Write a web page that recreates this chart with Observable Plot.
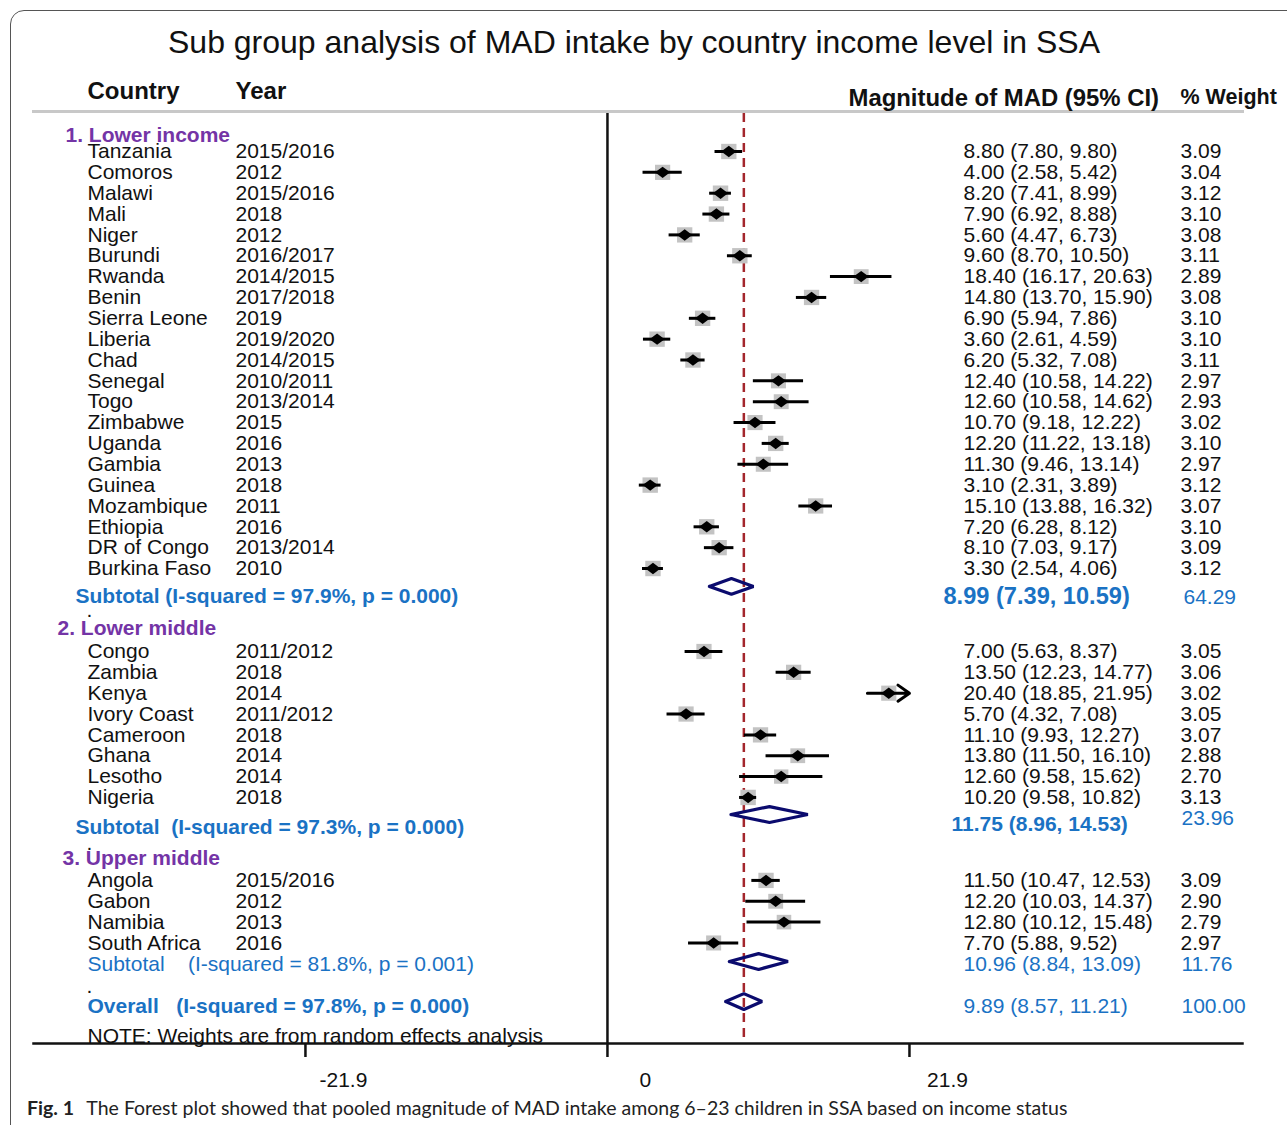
<!DOCTYPE html>
<html>
<head>
<meta charset="utf-8">
<script src="https://cdn.jsdelivr.net/npm/d3@7"></script>
<script src="https://cdn.jsdelivr.net/npm/@observablehq/plot@0.6"></script>
<style>
  body { margin: 0; background: #fff; width: 1287px; height: 1125px; overflow: hidden; position: relative; }
  #border { position: absolute; left: 10px; top: 10px; width: 1400px; height: 1300px; border: 1.5px solid #555; border-radius: 14px; box-sizing: border-box; }
  #title { position: absolute; left: 0; top: 23px; width: 1268px; text-align: center; font: 32px "Liberation Sans", Arial, sans-serif; line-height: 38px; color: #111; }
  #chart { position: absolute; left: 0; top: 70px; }
  #chart svg text { white-space: pre; }
  #caption { position: absolute; left: 27px; top: 1096px; font: 19.5px Lato, "Open Sans", sans-serif; color: #222; white-space: nowrap; }
  #caption b { font-weight: 700; margin-right: 8px; }
</style>
</head>
<body>
<div id="border"></div>
<div id="title">Sub group analysis of MAD intake by country income level in SSA</div>
<div id="chart"></div>
<div id="caption"><b>Fig. 1</b> The Forest plot showed that pooled magnitude of MAD intake among 6–23 children in SSA based on income status</div>
<script>
// ---------------- data ----------------
const groupNames = ["1. Lower income", "2. Lower middle", "3. Upper middle"];

const countries1 = ["Tanzania","Comoros","Malawi","Mali","Niger","Burundi","Rwanda","Benin","Sierra Leone","Liberia","Chad","Senegal","Togo","Zimbabwe","Uganda","Gambia","Guinea","Mozambique","Ethiopia","DR of Congo","Burkina Faso"];
const years1 = ["2015/2016","2012","2015/2016","2018","2012","2016/2017","2014/2015","2017/2018","2019","2019/2020","2014/2015","2010/2011","2013/2014","2015","2016","2013","2018","2011","2016","2013/2014","2010"];
const est1 = [8.80,4.00,8.20,7.90,5.60,9.60,18.40,14.80,6.90,3.60,6.20,12.40,12.60,10.70,12.20,11.30,3.10,15.10,7.20,8.10,3.30];
const lo1  = [7.80,2.58,7.41,6.92,4.47,8.70,16.17,13.70,5.94,2.61,5.32,10.58,10.58,9.18,11.22,9.46,2.31,13.88,6.28,7.03,2.54];
const hi1  = [9.80,5.42,8.99,8.88,6.73,10.50,20.63,15.90,7.86,4.59,7.08,14.22,14.62,12.22,13.18,13.14,3.89,16.32,8.12,9.17,4.06];
const w1   = [3.09,3.04,3.12,3.10,3.08,3.11,2.89,3.08,3.10,3.10,3.11,2.97,2.93,3.02,3.10,2.97,3.12,3.07,3.10,3.09,3.12];

const countries2 = ["Congo","Zambia","Kenya","Ivory Coast","Cameroon","Ghana","Lesotho","Nigeria"];
const years2 = ["2011/2012","2018","2014","2011/2012","2018","2014","2014","2018"];
const est2 = [7.00,13.50,20.40,5.70,11.10,13.80,12.60,10.20];
const lo2  = [5.63,12.23,18.85,4.32,9.93,11.50,9.58,9.58];
const hi2  = [8.37,14.77,21.95,7.08,12.27,16.10,15.62,10.82];
const w2   = [3.05,3.06,3.02,3.05,3.07,2.88,2.70,3.13];

const countries3 = ["Angola","Gabon","Namibia","South Africa"];
const years3 = ["2015/2016","2012","2013","2016"];
const est3 = [11.50,12.20,12.80,7.70];
const lo3  = [10.47,10.03,10.12,5.88];
const hi3  = [12.53,14.37,15.48,9.52];
const w3   = [3.09,2.90,2.79,2.97];

const summaryLabels = ["Subtotal (I-squared = 97.9%, p = 0.000)", "Subtotal  (I-squared = 97.3%, p = 0.000)", "Subtotal    (I-squared = 81.8%, p = 0.001)", "Overall   (I-squared = 97.8%, p = 0.000)"];
const summaryEst = [8.99, 11.75, 10.96, 9.89];
const summaryLo  = [7.39, 8.96, 8.84, 8.57];
const summaryHi  = [10.59, 14.53, 13.09, 11.21];
const summaryW   = [64.29, 23.96, 11.76, 100.00];

const headers = ["Country", "Year", "Magnitude of MAD (95% CI)", "% Weight"];
const xTicks = [-21.9, 0, 21.9];
const note = "NOTE: Weights are from random effects analysis";

// ---------------- layout (row positions) ----------------
const firstRow = [0, 23.98, 34.96];
const groupHeaderRow = [-0.77, 22.88, 33.9];
const summaryTextRow = [21.34, 32.42, 39.0, 41.0];
const summaryValRow  = [21.34, 32.28, 39.0, 41.0];
const summaryWRow    = [21.38, 31.99, 39.0, 41.0];
const summaryDiaRow  = [20.86, 31.8, 38.85, 40.77];
const dotRows = [22.0, 33.2, 40.05];

const groups = [
  [countries1, years1, est1, lo1, hi1, w1],
  [countries2, years2, est2, lo2, hi2, w2],
  [countries3, years3, est3, lo3, hi3, w3]
];
const studies = groups.flatMap(([c, yr, e, l, h, w], g) =>
  c.map((name, i) => ({name, year: yr[i], est: e[i], lo: l[i], hi: h[i], w: w[i], row: firstRow[g] + i,
    label: `${e[i].toFixed(2)} (${l[i].toFixed(2)}, ${h[i].toFixed(2)})`}))
);
const summaries = summaryEst.map((e, i) => ({
  id: i, est: e, lo: summaryLo[i], hi: summaryHi[i], w: summaryW[i],
  label: summaryLabels[i], valLabel: `${e.toFixed(2)} (${summaryLo[i].toFixed(2)}, ${summaryHi[i].toFixed(2)})`,
  tRow: summaryTextRow[i], vRow: summaryValRow[i], wRow: summaryWRow[i], dRow: summaryDiaRow[i]
}));
const halfH = 0.38;
const diamondPts = summaries.flatMap(s => [
  {id: s.id, x: s.lo, y: s.dRow}, {id: s.id, x: s.est, y: s.dRow - halfH},
  {id: s.id, x: s.hi, y: s.dRow}, {id: s.id, x: s.est, y: s.dRow + halfH},
  {id: s.id, x: s.lo, y: s.dRow}
]);
const axisMax = xTicks[xTicks.length - 1];
const overall = summaryEst[3];

// ---------------- plot ----------------
const W = 1287, H = 1025, ML = 33, MR = 45, MT = 43, MB = 52;
const rowPx = 20.85, row0 = 81;
const left = px => px - ML;

const wideDiamond = {
  draw(ctx, size) {
    const r = Math.sqrt(size) / 2;
    ctx.moveTo(-r * 1.25, 0); ctx.lineTo(0, -r * 0.95); ctx.lineTo(r * 1.25, 0); ctx.lineTo(0, r * 0.95); ctx.closePath();
  }
};

const purple = "#7434a6", blue = "#1a72c4", navy = "#0b0b6e", red = "#a3262c";
const txt = (data, opts) => Plot.text(data, {frameAnchor: "left", textAnchor: "start", fontSize: 21, fill: "#111", ...opts});

const chart = Plot.plot({
  width: W, height: H,
  marginLeft: ML, marginRight: MR, marginTop: MT, marginBottom: MB,
  style: {fontFamily: "'Liberation Sans', Arial, sans-serif", fontSize: "21px", background: "transparent", overflow: "visible", color: "#111"},
  x: {domain: [-41.62, 46.05], axis: null},
  y: {domain: [0, 41], range: [row0, row0 + 41 * rowPx], axis: null},
  r: {type: "sqrt", domain: [0, 3.13], range: [0, 8.7]},
  marks: [
    Plot.frame({anchor: "top", stroke: "#c8c8c8", strokeWidth: 3, dy: -2}),
    Plot.frame({anchor: "bottom", stroke: "#111", strokeWidth: 2.5}),
    Plot.ruleX([0], {stroke: "#111", strokeWidth: 2.5}),
    Plot.axisX({ticks: xTicks, tickFormat: () => "", tickSize: 14, strokeWidth: 2.5, anchor: "bottom"}),
    Plot.axisX({ticks: xTicks, tickFormat: d => String(d), tickSize: 0, tickPadding: 29, dx: 38, fontSize: 21, anchor: "bottom"}),
    Plot.ruleX([overall], {stroke: red, strokeWidth: 2.5, strokeDasharray: "9,6"}),
    Plot.dot(studies, {x: "est", y: "row", r: "w", symbol: "square", fill: "#c3c3c3"}),
    Plot.ruleY(studies.filter(d => d.hi <= axisMax), {x1: "lo", x2: "hi", y: "row", stroke: "#000", strokeWidth: 3}),
    Plot.arrow(studies.filter(d => d.hi > axisMax), {x1: "lo", x2: () => axisMax, y1: "row", y2: "row", stroke: "#000", strokeWidth: 3, headLength: 11, headAngle: 70}),
    Plot.dot(studies, {x: "est", y: "row", r: 6.8, symbol: wideDiamond, fill: "#000"}),
    Plot.line(diamondPts, {x: "x", y: "y", z: "id", stroke: navy, strokeWidth: 3.2, strokeLinejoin: "miter"}),
    // headers
    txt([headers[0]], {y: () => -2.88, dx: left(87), fontWeight: "bold", fontSize: 24}),
    txt([headers[1]], {y: () => -2.88, dx: left(235), fontWeight: "bold", fontSize: 24}),
    txt([headers[2]], {y: () => -2.54, dx: left(848), fontWeight: "bold", fontSize: 23.9}),
    txt([headers[3]], {y: () => -2.59, dx: left(1180), fontWeight: "bold", fontSize: 21.5}),
    // group headers
    txt([groupNames[0]], {y: () => groupHeaderRow[0], dx: left(65), fill: purple, fontWeight: "bold"}),
    txt([groupNames[1]], {y: () => groupHeaderRow[1], dx: left(57), fill: purple, fontWeight: "bold"}),
    txt([groupNames[2]], {y: () => groupHeaderRow[2], dx: left(62), fill: purple, fontWeight: "bold"}),
    // study rows
    txt(studies, {y: "row", text: "name", dx: left(87)}),
    txt(studies, {y: "row", text: "year", dx: left(235)}),
    txt(studies, {y: "row", text: "label", dx: left(963)}),
    txt(studies, {y: "row", text: d => d.w.toFixed(2), dx: left(1180)}),
    // subtotal / overall
    txt(summaries.slice(0, 2), {y: "tRow", text: "label", dx: left(75), fill: blue, fontWeight: "bold"}),
    txt(summaries.slice(2, 3), {y: "tRow", text: "label", dx: left(87), fill: blue}),
    txt(summaries.slice(3), {y: "tRow", text: "label", dx: left(87), fill: blue, fontWeight: "bold"}),
    txt(summaries.slice(0, 1), {y: "vRow", text: "valLabel", dx: left(943), fill: blue, fontWeight: "bold", fontSize: 23.6}),
    txt(summaries.slice(1, 2), {y: "vRow", text: "valLabel", dx: left(951), fill: blue, fontWeight: "bold", fontSize: 21}),
    txt(summaries.slice(2), {y: "vRow", text: "valLabel", dx: left(963), fill: blue}),
    txt(summaries.slice(0, 1), {y: "wRow", text: d => d.w.toFixed(2), dx: left(1183), fill: blue}),
    txt(summaries.slice(1), {y: "wRow", text: d => d.w.toFixed(2), dx: left(1181), fill: blue}),
    txt(dotRows, {y: d => d, text: () => ".", dx: left(86)}),
    txt([note], {y: () => 42.45, dx: left(87)})
  ]
});
document.getElementById("chart").appendChild(chart);
</script>
</body>
</html>
